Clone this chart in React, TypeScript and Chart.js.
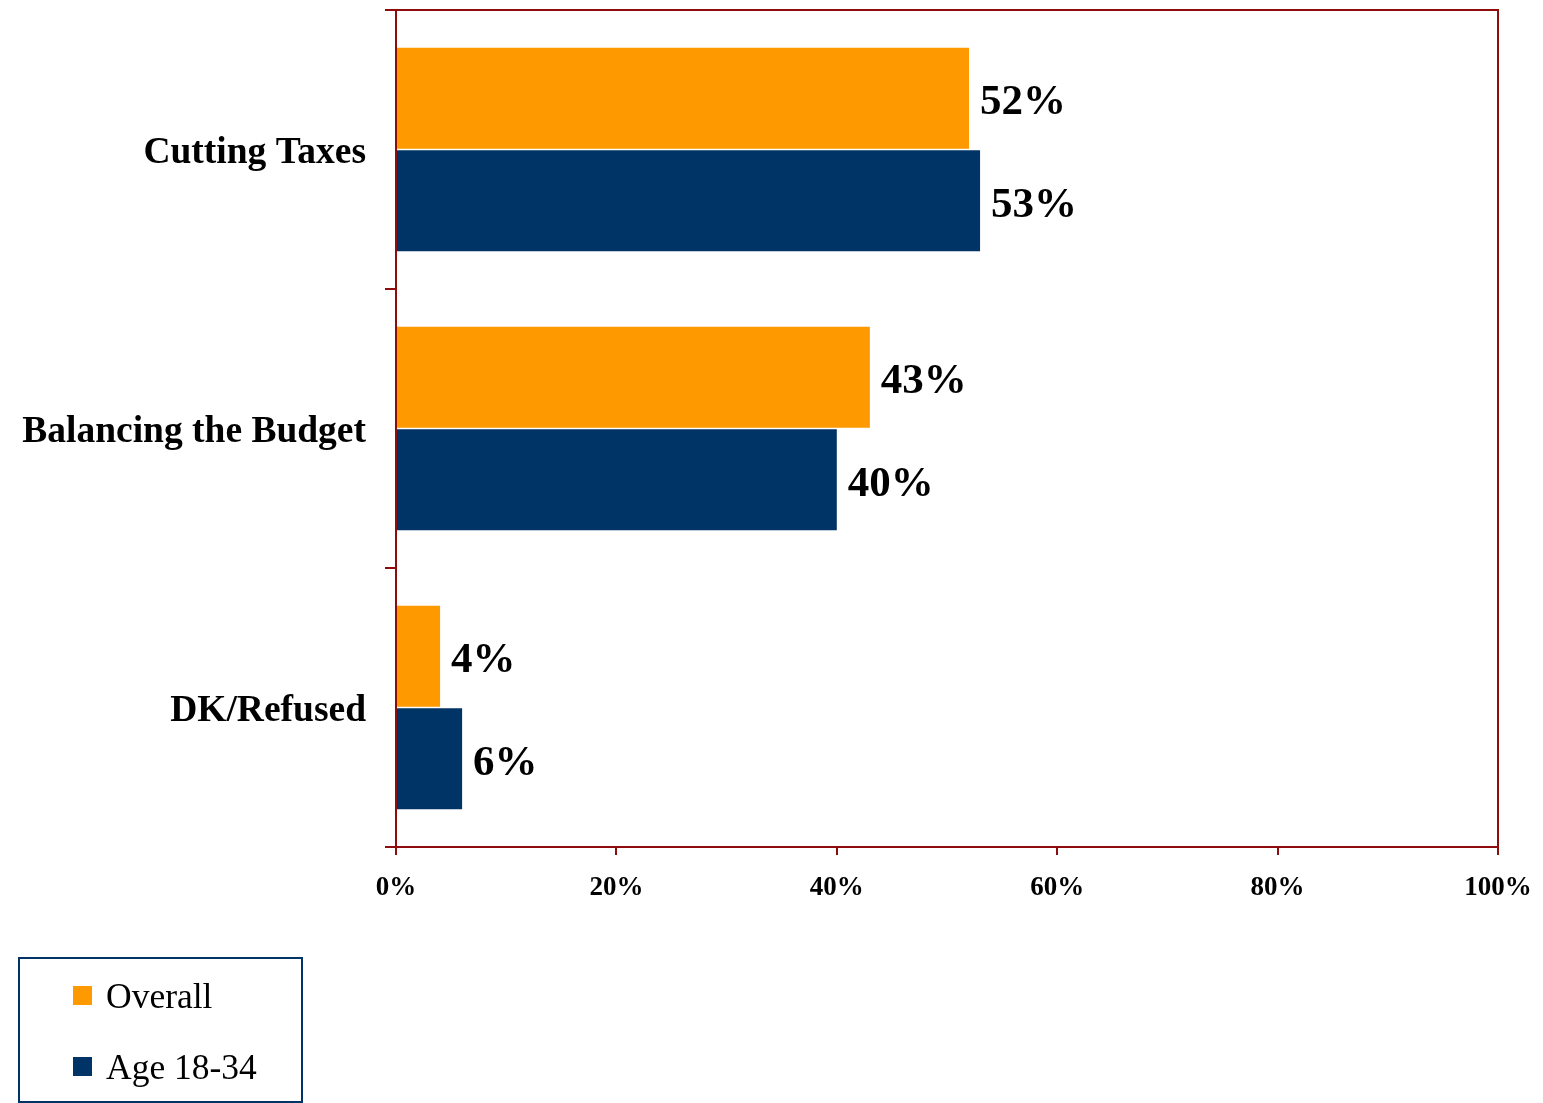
import React, { useEffect, useRef } from "react";
import { Chart, registerables } from "chart.js";

Chart.register(...registerables);

const categories = ["Cutting Taxes", "Balancing the Budget", "DK/Refused"];
const overallValues = [52, 43, 4];
const youngValues = [53, 40, 6];
const seriesNames = ["Overall", "Age 18-34"];
const seriesColors = ["#FF9900", "#003366"];
const xTickLabels = ["0%", "20%", "40%", "60%", "80%", "100%"];

const BORDER = "#8E0C0C";
const SERIF = "'Liberation Serif', 'Times New Roman', serif";

export default function App() {
  const ref = useRef<HTMLCanvasElement | null>(null);

  useEffect(() => {
    if (!ref.current) return;

    const extras = {
      id: "extras",
      afterDatasetsDraw(chart: any) {
        const ctx = chart.ctx;
        const area = chart.chartArea;
        ctx.save();
        ctx.font = `bold 43px ${SERIF}`;
        ctx.fillStyle = "#000";
        ctx.textAlign = "left";
        ctx.textBaseline = "middle";
        chart.data.datasets.forEach((ds: any, di: number) => {
          const meta = chart.getDatasetMeta(di);
          meta.data.forEach((bar: any, i: number) => {
            ctx.fillText(`${ds.data[i]}%`, bar.x + 11, bar.y + 5);
          });
        });
        ctx.strokeStyle = BORDER;
        ctx.lineWidth = 2;
        ctx.strokeRect(area.left, area.top, area.right - area.left, area.bottom - area.top);
        ctx.restore();
      },
      afterDraw(chart: any) {
        const ctx = chart.ctx;
        ctx.save();
        ctx.strokeStyle = "#003366";
        ctx.lineWidth = 2;
        ctx.strokeRect(19, 958, 283, 144);
        const rows = [996, 1067];
        ctx.font = `35.5px ${SERIF}`;
        ctx.textAlign = "left";
        ctx.textBaseline = "middle";
        seriesNames.forEach((name, i) => {
          ctx.fillStyle = seriesColors[i];
          ctx.fillRect(73, rows[i] - 10, 19, 19);
          ctx.fillStyle = "#000";
          ctx.fillText(name, 106, rows[i] + 3);
        });
        ctx.restore();
      },
    };

    const chart = new Chart(ref.current, {
      type: "bar",
      data: {
        labels: categories,
        datasets: [
          {
            label: seriesNames[0],
            data: overallValues,
            backgroundColor: seriesColors[0],
            barPercentage: 0.985,
            categoryPercentage: 0.735,
          },
          {
            label: seriesNames[1],
            data: youngValues,
            backgroundColor: seriesColors[1],
            barPercentage: 0.985,
            categoryPercentage: 0.735,
          },
        ],
      },
      options: {
        indexAxis: "y",
        responsive: false,
        animation: false,
        layout: { padding: { top: 10, right: 45, left: 0, bottom: 0 } },
        plugins: {
          legend: { display: false },
          tooltip: { enabled: false },
        },
        scales: {
          x: {
            min: 0,
            max: 100,
            afterFit: (s: any) => {
              s.height = 256;
              s.paddingLeft = 0;
              s.paddingRight = 0;
            },
            afterBuildTicks: (s: any) => {
              s.ticks = [0, 20, 40, 60, 80, 100].map((v) => ({ value: v }));
            },
            ticks: {
              callback: (_v: any, i: number) => xTickLabels[i],
              color: "#000",
              font: { family: SERIF, size: 27, weight: "bold" },
              padding: 17,
              maxRotation: 0,
            },
            grid: {
              display: true,
              drawOnChartArea: false,
              tickLength: 8,
              color: BORDER,
              lineWidth: 2,
            },
            border: { display: true, color: BORDER, width: 2 },
          },
          y: {
            afterFit: (s: any) => {
              s.width = 396;
              s.paddingTop = 0;
              s.paddingBottom = 0;
            },
            ticks: {
              color: "#000",
              font: { family: SERIF, size: 37.5, weight: "bold" },
              padding: 19,
              labelOffset: 4,
            },
            grid: {
              display: true,
              offset: true,
              drawOnChartArea: false,
              tickLength: 11,
              color: BORDER,
              lineWidth: 2,
            },
            border: { display: true, color: BORDER, width: 2 },
          },
        },
      },
      plugins: [extras],
    } as any);

    return () => chart.destroy();
  }, []);

  return (
    <div style={{ position: "fixed", left: 0, top: 0, width: 1543, height: 1103, background: "#fff" }}>
      <canvas ref={ref} width={1543} height={1103} style={{ display: "block" }} />
    </div>
  );
}
